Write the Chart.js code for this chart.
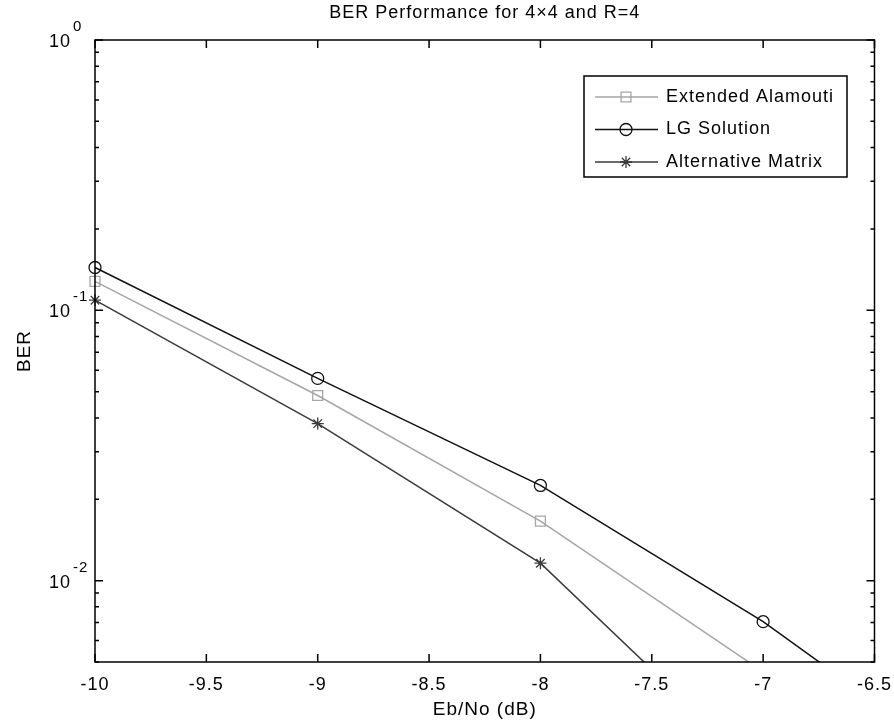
<!DOCTYPE html>
<html>
<head>
<meta charset="utf-8">
<title>BER Performance for 4x4 and R=4</title>
<script src="https://cdn.jsdelivr.net/npm/chart.js@4.4.1/dist/chart.umd.min.js"></script>
<style>
  body { margin: 0; background: #fff; }
</style>
</head>
<body>
<canvas id="berChart" width="894" height="727"></canvas>
<script>
// values (Eb/No in dB, BER)
const ebNo = [-10, -9, -8, -7, -6];
const extendedAlamouti = [0.128, 0.0484, 0.0166, 0.0046, null];
const lgSolution = [0.144, 0.056, 0.0225, 0.00705, 0.0018];
const alternativeMatrix = [0.109, 0.0381, 0.0116, 0.0019, null];
const yDecadeLabels = [0, -1, -2];   // exponents shown as 10^e

const FONT = "'Liberation Sans', Arial, Helvetica, sans-serif";
const titleText = 'BER Performance for 4\u00d74 and R=4';

function points(values) {
  return ebNo.map((x, i) => ({ x: x, y: values[i] })).filter(p => p.y !== null);
}

function makeSet(label, values, color, style, radius) {
  return {
    label: label,
    data: points(values),
    borderColor: color,
    borderWidth: 1.5,
    pointStyle: style,
    pointRadius: radius,
    pointBorderColor: color,
    pointBorderWidth: 1.3,
    pointBackgroundColor: 'rgba(0,0,0,0)',
    tension: 0,
    clip: { left: 10, top: 10, right: 0, bottom: 0 }
  };
}

// draws the matlab style box, inward ticks, y labels, title and legend
const matlabAxes = {
  id: 'matlabAxes',
  beforeDraw(chart) {
    chart.ctx.letterSpacing = '1px';
  },
  afterDraw(chart) {
    const ctx = chart.ctx;
    const a = chart.chartArea;
    const x = chart.scales.x;
    const y = chart.scales.y;
    ctx.save();
    ctx.strokeStyle = '#000';
    ctx.lineWidth = 1.5;
    ctx.strokeRect(a.left, a.top, a.right - a.left, a.bottom - a.top);

    ctx.beginPath();
    x.ticks.forEach(t => {
      const px = x.getPixelForValue(t.value);
      ctx.moveTo(px, a.bottom); ctx.lineTo(px, a.bottom - 8);
      ctx.moveTo(px, a.top); ctx.lineTo(px, a.top + 8);
    });
    for (let e = Math.floor(Math.log10(y.min)); e <= 0; e++) {
      for (let m = 1; m < 10; m++) {
        const v = m * Math.pow(10, e);
        if (v < y.min * 0.999 || v > y.max * 1.001) continue;
        const len = m === 1 ? 8 : 4;
        const py = y.getPixelForValue(v);
        ctx.moveTo(a.left, py); ctx.lineTo(a.left + len, py);
        ctx.moveTo(a.right, py); ctx.lineTo(a.right - len, py);
      }
    }
    ctx.stroke();

    // y tick labels 10^e
    ctx.fillStyle = '#000';
    ctx.textBaseline = 'middle';
    yDecadeLabels.forEach(e => {
      const py = y.getPixelForValue(Math.pow(10, e));
      ctx.font = '18px ' + FONT;
      ctx.textAlign = 'right';
      ctx.fillText('10', a.left - 24, py + 2);
      ctx.font = '15px ' + FONT;
      ctx.textAlign = 'left';
      ctx.fillText(String(e), a.left - 22, py - 13);
    });

    // title
    ctx.font = '18px ' + FONT;
    ctx.textAlign = 'center';
    ctx.fillText(titleText, (a.left + a.right) / 2, 13);

    // legend
    const bx = 584, by = a.top + 36, bw = 263, bh = 101;
    ctx.fillStyle = '#fff';
    ctx.fillRect(bx, by, bw, bh);
    ctx.strokeStyle = '#000';
    ctx.lineWidth = 1.5;
    ctx.strokeRect(bx, by, bw, bh);
    chart.data.datasets.forEach((ds, i) => {
      const ry = by + 21 + i * 32.5;
      ctx.strokeStyle = ds.borderColor;
      ctx.lineWidth = ds.borderWidth;
      ctx.beginPath();
      ctx.moveTo(bx + 11, ry); ctx.lineTo(bx + 74, ry);
      ctx.stroke();
      ctx.fillStyle = 'rgba(0,0,0,0)';
      ctx.lineWidth = ds.pointBorderWidth;
      Chart.helpers.drawPoint(ctx, {
        pointStyle: ds.pointStyle, radius: ds.pointRadius,
        rotation: 0, borderWidth: ds.pointBorderWidth
      }, bx + 42, ry);
      ctx.fillStyle = '#000';
      ctx.font = '18px ' + FONT;
      ctx.textAlign = 'left';
      ctx.fillText(ds.label, bx + 82, ry);
    });
    ctx.restore();
  }
};

const ctx = document.getElementById('berChart').getContext('2d');
const berChart = new Chart(ctx, {
  type: 'line',
  data: {
    datasets: [
      makeSet('Extended Alamouti', extendedAlamouti, '#a6a6a6', 'rect', 7),
      makeSet('LG Solution', lgSolution, '#111111', 'circle', 6),
      makeSet('Alternative Matrix', alternativeMatrix, '#3a3a3a', 'star', 6)
    ]
  },
  options: {
    responsive: false,
    animation: false,
    layout: { padding: { top: 40, right: 17, left: 0, bottom: 0 } },
    plugins: {
      legend: { display: false },
      title: { display: false },
      tooltip: { enabled: false }
    },
    scales: {
      x: {
        type: 'linear',
        min: -10,
        max: -6.5,
        grid: { display: false },
        border: { display: false },
        ticks: {
          stepSize: 0.5,
          autoSkip: false,
          maxRotation: 0,
          padding: 4,
          color: '#000',
          font: { family: FONT, size: 18 },
          callback: v => String(v)
        },
        title: {
          display: true,
          text: 'Eb/No (dB)',
          color: '#000',
          font: { family: FONT, size: 19 },
          padding: { top: 0, bottom: 6 }
        },
        afterFit: s => { s.height = 65; }
      },
      y: {
        type: 'logarithmic',
        min: 0.005,
        max: 1,
        grid: { display: false },
        border: { display: false },
        ticks: { display: false },
        title: {
          display: true,
          text: 'BER',
          color: '#000',
          font: { family: FONT, size: 19 },
          padding: { top: 13, bottom: 0 }
        },
        afterFit: s => { s.width = 95; }
      }
    }
  },
  plugins: [matlabAxes]
});
</script>
</body>
</html>
